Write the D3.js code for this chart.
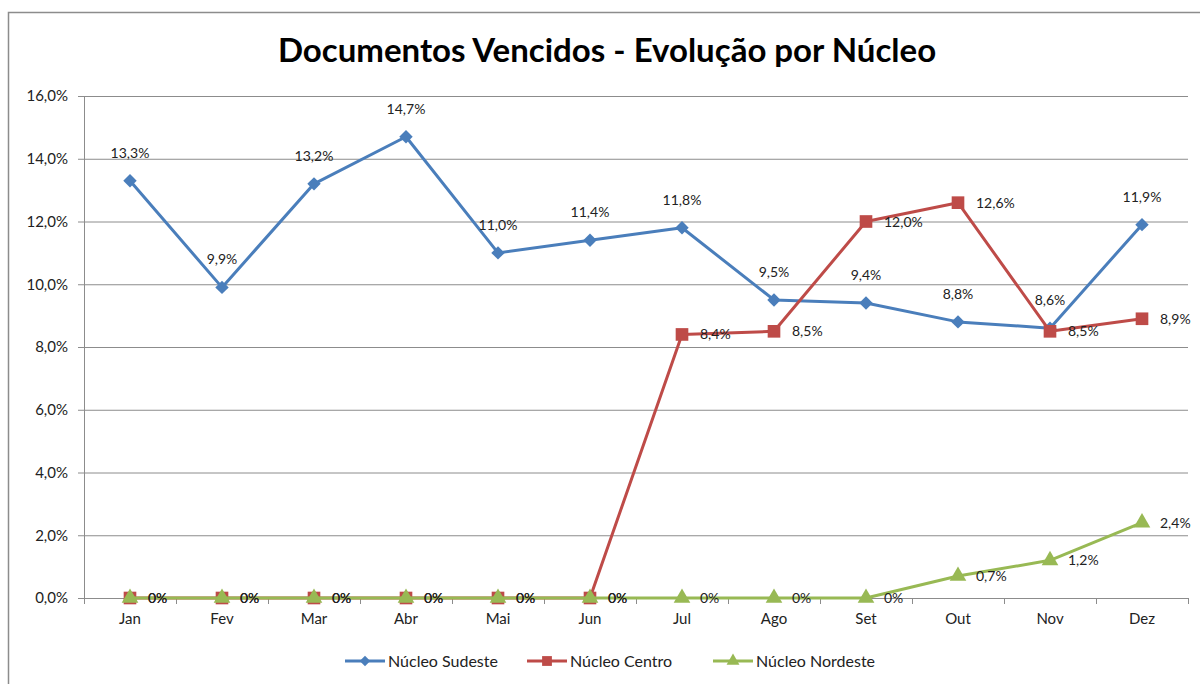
<!DOCTYPE html>
<html>
<head>
<meta charset="utf-8">
<script src="https://cdn.jsdelivr.net/npm/d3@7"></script>
<style>
  body { margin: 0; background: #fff; }
  text { font-family: Lato, "Open Sans", sans-serif; }
</style>
</head>
<body>
<div id="chart-container" style="width:1200px;height:684px"></div>
<script>
let months = ["Jan", "Fev", "Mar", "Abr", "Mai", "Jun", "Jul", "Ago", "Set", "Out", "Nov", "Dez"],
    sudeste = [13.3, 9.9, 13.2, 14.7, 11.0, 11.4, 11.8, 9.5, 9.4, 8.8, 8.6, 11.9],
    centro = [0, 0, 0, 0, 0, 0, 8.4, 8.5, 12.0, 12.6, 8.5, 8.9],
    nordeste = [0, 0, 0, 0, 0, 0, 0, 0, 0, 0.7, 1.2, 2.4],
    yTicks = [0, 2, 4, 6, 8, 10, 12, 14, 16];

let series = [
    { name: "Núcleo Sudeste", values: sudeste, color: "#4a7ebb", marker: d3.symbolSquare, size: 90, rotate: 45, label: "above" },
    { name: "Núcleo Centro", values: centro, color: "#be4b48", marker: d3.symbolSquare, size: 160, rotate: 0, label: "right" },
    { name: "Núcleo Nordeste", values: nordeste, color: "#98b954", marker: d3.symbolTriangle, size: 120, rotate: 0, label: "right" }
];

let svg = d3.select("#chart-container").append("svg").attr("width", 1200).attr("height", 684),
    margin = { top: 96, right: 12, bottom: 86, left: 84 },
    width = 1200 - margin.left - margin.right,
    height = 684 - margin.top - margin.bottom,
    g = svg.append("g").attr("transform", "translate(" + margin.left + "," + margin.top + ")");

let fmt = v => v === 0 ? "0%" : v.toFixed(1).replace(".", ",") + "%";

// chart frame
svg.append("path")
    .attr("d", "M8.5,700 V12.5 H1210")
    .attr("fill", "none")
    .attr("stroke", "#8c8c8c")
    .attr("stroke-width", 1.5);

svg.append("text")
    .attr("x", 607).attr("y", 62)
    .attr("text-anchor", "middle")
    .attr("font-size", 33).attr("font-weight", "bold")
    .attr("fill", "#000")
    .text("Documentos Vencidos - Evolução por Núcleo");

let x = d3.scaleBand().domain(months).range([0, width]),
    y = d3.scaleLinear().domain([0, 16]).range([height, 0]);

// gridlines
g.append("g")
    .selectAll("line")
    .data(yTicks.slice(1))
    .join("line")
    .attr("x1", 0).attr("x2", width)
    .attr("y1", d => y(d) + 0.5).attr("y2", d => y(d) + 0.5)
    .attr("stroke", "#8c8c8c");

// y axis
g.append("g")
    .call(d3.axisLeft(y).tickValues(yTicks).tickSize(6).tickPadding(10).tickFormat(d => d.toFixed(1).replace(".", ",") + "%"))
    .call(a => a.select(".domain").attr("stroke", "#8c8c8c"))
    .call(a => a.selectAll(".tick line").attr("stroke", "#8c8c8c"))
    .call(a => a.selectAll("text").attr("font-size", 15).attr("fill", "#222").attr("font-family", "Lato, sans-serif"));

// x axis
let xa = g.append("g")
    .attr("transform", "translate(0," + height + ")")
    .call(d3.axisBottom(x).tickSize(0).tickPadding(15))
    .call(a => a.select(".domain").attr("stroke", "#8c8c8c"))
    .call(a => a.selectAll("text").attr("font-size", 15).attr("fill", "#222").attr("font-family", "Lato, sans-serif"));

xa.append("g")
    .selectAll("line")
    .data(d3.range(months.length + 1))
    .join("line")
    .attr("x1", i => i * x.step() + 0.5).attr("x2", i => i * x.step() + 0.5)
    .attr("y1", 0).attr("y2", 6)
    .attr("stroke", "#8c8c8c");

let cx = m => x(m) + x.bandwidth() / 2;

let line = d3.line()
    .x((d, i) => cx(months[i]))
    .y(d => y(d));

series.forEach(s => {
    let sg = g.append("g");
    sg.append("path")
        .datum(s.values)
        .attr("fill", "none")
        .attr("stroke", s.color)
        .attr("stroke-width", 3)
        .attr("stroke-linejoin", "round")
        .attr("d", line);
    sg.selectAll("path.marker")
        .data(s.values)
        .join("path")
        .attr("class", "marker")
        .attr("transform", (d, i) => `translate(${cx(months[i])},${y(d)}) rotate(${s.rotate})`)
        .attr("d", d3.symbol().type(s.marker).size(s.size))
        .attr("fill", s.color);
});

// data labels
series.forEach(s => {
    g.append("g")
        .selectAll("text")
        .data(s.values)
        .join("text")
        .attr("x", (d, i) => s.label === "above" ? cx(months[i]) : cx(months[i]) + 18)
        .attr("y", d => s.label === "above" ? y(d) - 23 : y(d) + 5)
        .attr("text-anchor", s.label === "above" ? "middle" : "start")
        .attr("font-size", 14)
        .attr("fill", "#222")
        .text(d => fmt(d));
});

// legend
let legendX = [345, 527, 713];
let lg = svg.append("g").attr("transform", "translate(0,661)");
series.forEach((s, i) => {
    let e = lg.append("g").attr("transform", `translate(${legendX[i]},0)`);
    e.append("line").attr("x1", 0).attr("x2", 40).attr("stroke", s.color).attr("stroke-width", 3);
    e.append("path").attr("transform", `translate(20,0) rotate(${s.rotate})`)
        .attr("d", d3.symbol().type(s.marker).size(s.size * 0.6))
        .attr("fill", s.color);
    e.append("text").attr("x", 43).attr("y", 6)
        .attr("font-size", 16).attr("fill", "#222")
        .text(s.name);
});
</script>
</body>
</html>
